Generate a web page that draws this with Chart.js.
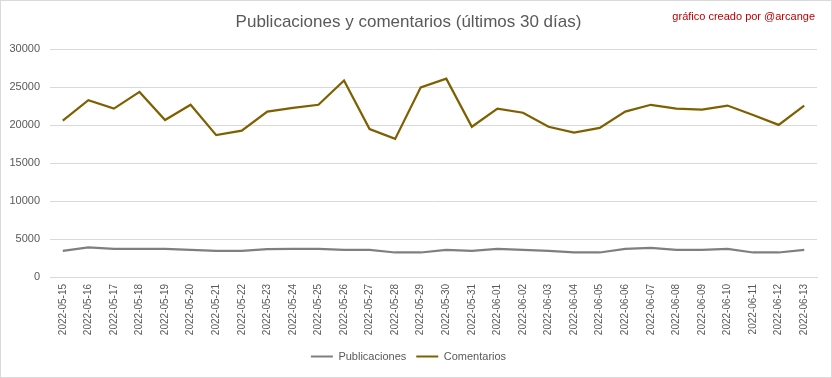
<!DOCTYPE html>
<html lang="es">
<head>
<meta charset="UTF-8">
<title>Publicaciones y comentarios</title>
<script src="https://cdn.jsdelivr.net/npm/chart.js"></script>
<style>
  html, body { margin: 0; padding: 0; background: #fff; }
  #chart { display: block; }
</style>
</head>
<body>
<canvas id="chart" width="832" height="378"></canvas>
<script>
    const dias = [
        '2022-05-15', '2022-05-16', '2022-05-17', '2022-05-18', '2022-05-19', '2022-05-20',
        '2022-05-21', '2022-05-22', '2022-05-23', '2022-05-24', '2022-05-25', '2022-05-26',
        '2022-05-27', '2022-05-28', '2022-05-29', '2022-05-30', '2022-05-31', '2022-06-01',
        '2022-06-02', '2022-06-03', '2022-06-04', '2022-06-05', '2022-06-06', '2022-06-07',
        '2022-06-08', '2022-06-09', '2022-06-10', '2022-06-11', '2022-06-12', '2022-06-13'
    ];
    const publicaciones = [
        3450, 3890, 3720, 3720, 3720, 3580, 3450, 3450, 3670, 3720, 3720, 3580, 3580, 3230, 3230,
        3580, 3450, 3720, 3580, 3450, 3230, 3230, 3720, 3850, 3580, 3580, 3720, 3230, 3230, 3580
    ];
    const comentarios = [
        20600, 23300, 22200, 24400, 20700, 22700, 18700, 19300, 21800, 22300, 22700, 25900, 19500, 18200, 25000,
        26150, 19800, 22200, 21650, 19800, 19030, 19650, 21800, 22700, 22200, 22050, 22600, 21350, 20050, 22600
    ];
    const yTicks = [0, 5000, 10000, 15000, 20000, 25000, 30000];

    const FONT = 'Liberation Sans';
    const GRID = '#d9d9d9';
    const TEXT = '#595959';

    // marco gris y firma en rojo
    const extras = {
        id: 'extras',
        beforeDraw(chart) {
            const ctx = chart.ctx;
            ctx.save();
            ctx.fillStyle = '#fff';
            ctx.fillRect(0, 0, chart.width, chart.height);
            ctx.strokeStyle = GRID;
            ctx.lineWidth = 1;
            ctx.strokeRect(0.5, 0.5, chart.width - 1, chart.height - 1);
            ctx.restore();
        },
        afterDraw(chart) {
            const ctx = chart.ctx;
            ctx.save();
            ctx.fillStyle = '#c00000';
            ctx.font = '11px ' + FONT;
            ctx.textAlign = 'right';
            ctx.textBaseline = 'middle';
            ctx.fillText('gráfico creado por @arcange', 815, 17);
            ctx.restore();
        }
    };

    new Chart(document.getElementById('chart').getContext('2d'), {
        type: 'line',
        data: {
            labels: dias,
            datasets: [
                {
                    label: 'Publicaciones',
                    data: publicaciones,
                    borderColor: '#7f7f7f',
                    backgroundColor: '#7f7f7f',
                    borderWidth: 2.25,
                    pointRadius: 0,
                    tension: 0
                },
                {
                    label: 'Comentarios',
                    data: comentarios,
                    borderColor: '#7f6000',
                    backgroundColor: '#7f6000',
                    borderWidth: 2.25,
                    pointRadius: 0,
                    tension: 0
                }
            ]
        },
        options: {
            responsive: false,
            animation: false,
            layout: { padding: { left: 0, right: 15, top: 0, bottom: 6 } },
            scales: {
                x: {
                    offset: true,
                    grid: { display: false, drawTicks: false },
                    border: { display: true, color: GRID, width: 1 },
                    ticks: {
                        color: TEXT,
                        font: { family: FONT, size: 10 },
                        minRotation: 90,
                        maxRotation: 90,
                        autoSkip: false,
                        padding: 7
                    },
                    afterFit(scale) { scale.height = 64; }
                },
                y: {
                    min: 0,
                    max: 30000,
                    afterBuildTicks(scale) { scale.ticks = yTicks.map(v => ({ value: v })); },
                    grid: { color: GRID, drawTicks: false },
                    border: { display: false },
                    ticks: {
                        color: TEXT,
                        font: { family: FONT, size: 11 },
                        padding: 10,
                        callback: v => String(v)
                    },
                    afterFit(scale) { scale.width = 50; }
                }
            },
            plugins: {
                title: {
                    display: true,
                    text: 'Publicaciones y comentarios (últimos 30 días)',
                    color: TEXT,
                    font: { family: FONT, size: 17, weight: 'normal' },
                    padding: { top: 12, bottom: 17 }
                },
                legend: {
                    position: 'bottom',
                    labels: {
                        color: TEXT,
                        font: { family: FONT, size: 11 },
                        boxWidth: 22,
                        boxHeight: 2,
                        padding: 10,
                        generateLabels(chart) {
                            const items = Chart.defaults.plugins.legend.labels.generateLabels(chart);
                            items.forEach(it => { it.lineWidth = 0; });
                            return items;
                        }
                    }
                },
                tooltip: { enabled: false }
            }
        },
        plugins: [extras]
    });
</script>
</body>
</html>
